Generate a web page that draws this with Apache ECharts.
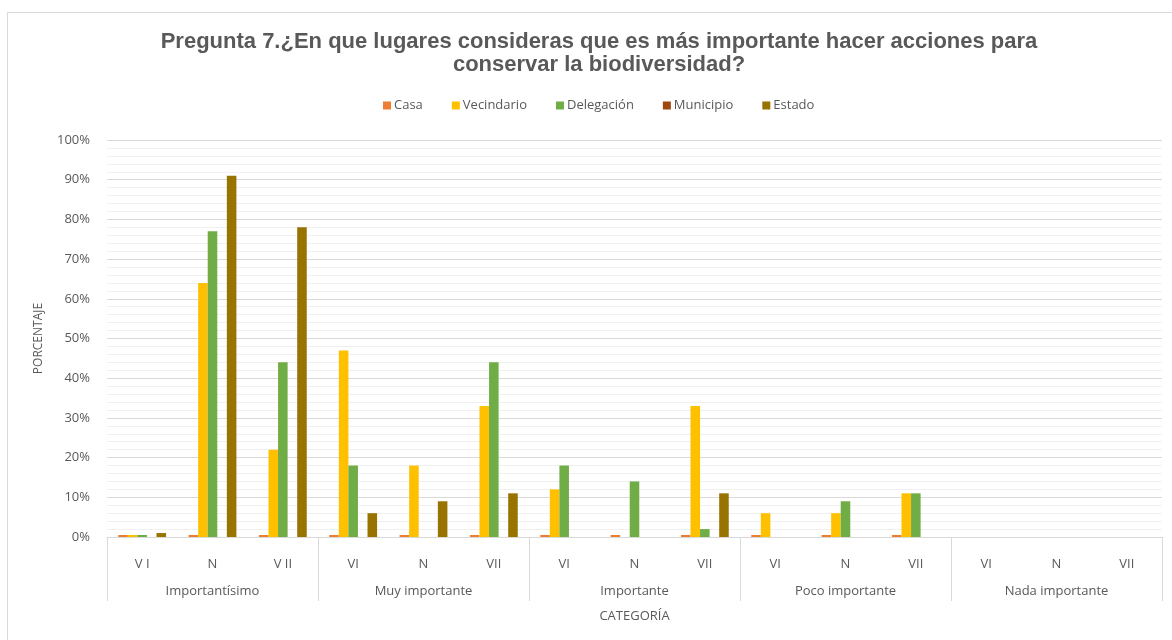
<!DOCTYPE html>
<html>
<head>
<meta charset="utf-8">
<script src="https://cdn.jsdelivr.net/npm/echarts@6/dist/echarts.min.js"></script>
<style>html,body{margin:0;padding:0;background:#fff}#c{width:1172px;height:640px}</style>
</head>
<body>
<div id="c"></div>
<script>
const subCategories = ['V I','N','V II','VI','N','VII','VI','N','VII','VI','N','VII','VI','N','VII'];
const groups = ['Importantísimo','Muy importante','Importante','Poco importante','Nada importante'];
const seriesNames = ['Casa','Vecindario','Delegación','Municipio','Estado'];
const casa       = [0.5,0.5,0.5, 0.5,0.5,0.5, 0.5,0.5,0.5, 0.5,0.5,0.5, 0,0,0];
const vecindario = [0.5,64,22, 47,18,33, 12,0,33, 6,6,11, 0,0,0];
const delegacion = [0.5,77,44, 18,0,44, 18,14,2, 0,9,11, 0,0,0];
const municipio  = [0,0,0, 0,0,0, 0,0,0, 0,0,0, 0,0,0];
const estado     = [1,91,78, 6,9,11, 0,0,11, 0,0,0, 0,0,0];
const yTicks = ['0%','10%','20%','30%','40%','50%','60%','70%','80%','90%','100%'];
const colors = ['#ED7D31','#FFC000','#70AD47','#9E480E','#997300'];

const chart = echarts.init(document.getElementById('c'), null, {renderer:'canvas'});
const allData = [casa, vecindario, delegacion, municipio, estado];
const font = '"Open Sans", Lato, sans-serif';
chart.setOption({
  animation:false,
  color: colors,
  graphic:[{type:'rect', shape:{x:7.5,y:12.5,width:1200,height:700}, style:{fill:'none',stroke:'#d9d9d9',lineWidth:1}, silent:true, z:-10}],
  title:{
    text:'Pregunta 7.¿En que lugares consideras que es más importante hacer acciones para\nconservar la biodiversidad?',
    left:594, top:25, textAlign:'center',
    textStyle:{fontFamily:'"Liberation Sans", Arial, sans-serif', fontWeight:'bold', fontSize:22, color:'#595959', lineHeight:23}
  },
  legend:{
    data: seriesNames, top:94, left:378,
    icon:'rect', itemWidth:8, itemHeight:8, itemGap:29,
    textStyle:{fontFamily:font, fontSize:13, color:'#595959', padding:[0,0,0,-2]}
  },
  grid:{left:107, right:10, top:140, bottom:103, containLabel:false},
  xAxis:[
    {type:'category', data: subCategories, position:'bottom',
     axisLine:{show:true, lineStyle:{color:'#d9d9d9'}}, axisTick:{show:false},
     axisLabel:{fontFamily:font, fontSize:13, color:'#595959', margin:21}},
    {type:'category', data: groups, position:'bottom',
     axisLine:{show:false},
     axisTick:{show:true, length:64, lineStyle:{color:'#d9d9d9'}},
     axisLabel:{fontFamily:font, fontSize:13, color:'#595959', margin:48},
     name:'CATEGORÍA', nameLocation:'middle', nameGap:73,
     nameTextStyle:{fontFamily:font, fontSize:13, color:'#595959'}}
  ],
  yAxis:{type:'value', min:0, max:100, interval:10,
    axisLabel:{fontFamily:font, fontSize:13, color:'#595959', margin:17, formatter:(v)=>yTicks[Math.round(v/10)]},
    axisLine:{show:false}, axisTick:{show:false},
    splitLine:{lineStyle:{color:'#d9d9d9'}},
    minorTick:{show:false, splitNumber:5},
    minorSplitLine:{show:true, lineStyle:{color:'#f0f0f0'}},
    name:'PORCENTAJE', nameLocation:'middle', nameGap:62, nameRotate:90,
    nameTextStyle:{fontFamily:font, fontSize:12, color:'#595959'}
  },
  series: seriesNames.map((n,i)=>({
    name:n, type:'bar', data: allData[i], xAxisIndex:0,
    barGap:'0%', barCategoryGap:'32%',
    itemStyle:{color:colors[i]}
  }))
});
</script>
</body>
</html>
